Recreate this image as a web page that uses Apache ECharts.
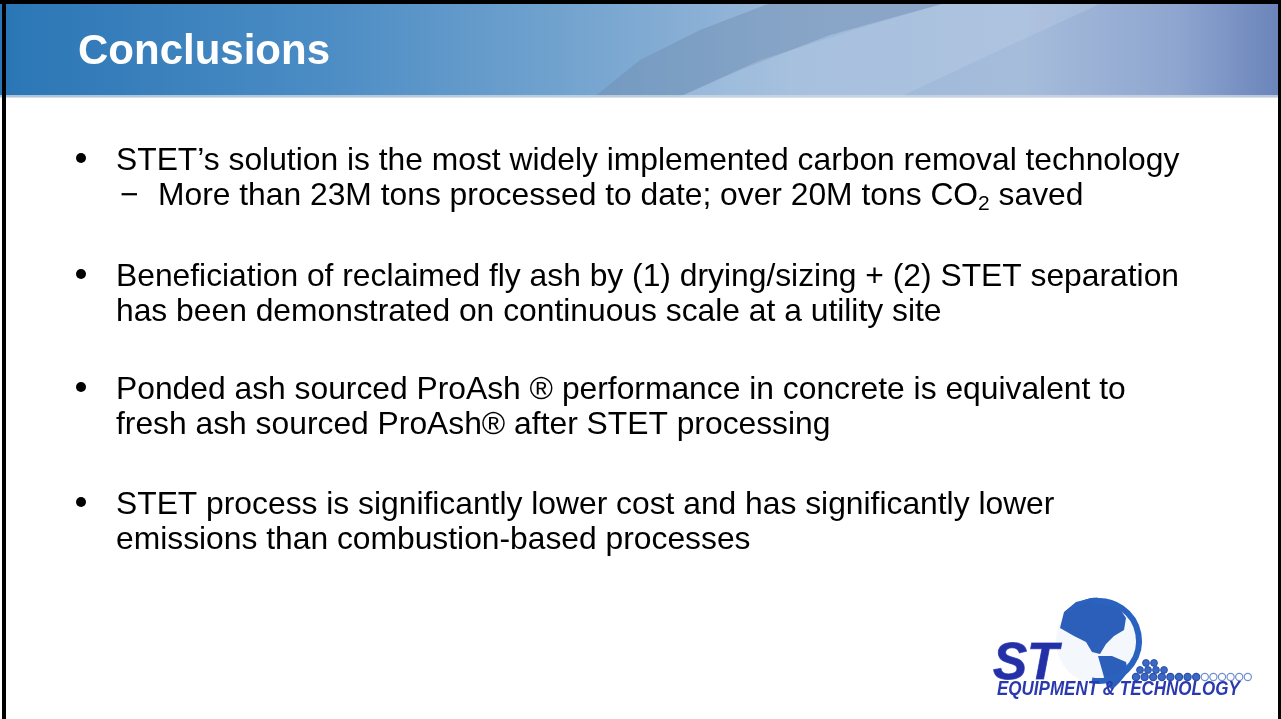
<!DOCTYPE html>
<html>
<head>
<meta charset="utf-8">
<title>Conclusions</title>
<script src="https://cdn.jsdelivr.net/npm/echarts@6/dist/echarts.min.js"></script>
<style>
  html, body { margin: 0; padding: 0; background: #fff; }
  #main { width: 1281px; height: 719px; }
</style>
</head>
<body>
<div id="main"></div>
<script>
// slide text
var titleText = 'Conclusions';
var bulletLines = [
  ['STET\u2019s solution is the most widely implemented carbon removal technology'],
  ['Beneficiation of reclaimed fly ash by (1) drying/sizing + (2) STET separation',
   'has been demonstrated on continuous scale at a utility site'],
  ['Ponded ash sourced ProAsh \u00ae performance in concrete is equivalent to',
   'fresh ash sourced ProAsh\u00ae after STET processing'],
  ['STET process is significantly lower cost and has significantly lower',
   'emissions than combustion-based processes']
];
var subBullet = ['More than 23M tons processed to date; over 20M tons CO', '2', ' saved'];
var bulletTop = [161, 277, 390, 505];
var logoWords = ['ST', 'EQUIPMENT & TECHNOLOGY'];

var FONT = '"Liberation Sans", Arial, sans-serif';
var LINE = 35.5;

var chart = echarts.init(document.getElementById('main'), null, { renderer: 'canvas' });

var els = [];

// header band
els.push({
  type: 'rect', shape: { x: 0, y: 0, width: 1281, height: 97 },
  style: { fill: new echarts.graphic.LinearGradient(0, 0, 1, 0, [
    { offset: 0, color: '#2a76b5' },
    { offset: 0.25, color: '#4b8cc4' },
    { offset: 0.45, color: '#74a4cf' },
    { offset: 0.62, color: '#9cb9da' },
    { offset: 0.8, color: '#a6bcdb' },
    { offset: 0.92, color: '#8ea5cf' },
    { offset: 1, color: '#6a84ba' }
  ]) }
});
// darker swoosh band
els.push({
  type: 'polygon', smooth: 0.35,
  shape: { points: [[594, 97], [640, 60], [700, 30], [768, 4], [942, 4], [830, 35], [740, 70], [679, 97]] },
  style: { fill: 'rgba(110,140,175,0.45)' }
});
// light swoosh region
els.push({
  type: 'polygon', smooth: 0.35,
  shape: { points: [[679, 97], [760, 60], [870, 25], [942, 4], [1100, 4], [1000, 50], [900, 97]] },
  style: { fill: 'rgba(200,215,235,0.25)' }
});
els.push({
  type: 'rect', shape: { x: 0, y: 95, width: 1281, height: 3 },
  style: { fill: 'rgba(205,215,228,0.8)' }
});

// frame
els.push({ type: 'rect', shape: { x: 0, y: 0, width: 1281, height: 4 }, style: { fill: '#000' } });
els.push({ type: 'rect', shape: { x: 2, y: 0, width: 4, height: 719 }, style: { fill: '#000' } });
els.push({ type: 'rect', shape: { x: 1278, y: 0, width: 3, height: 719 }, style: { fill: '#000' } });

// title
els.push({
  type: 'text', x: 78, y: 52,
  style: { text: titleText, fill: '#fff', font: 'bold 42px ' + FONT, verticalAlign: 'middle' }
});

// bullets
bulletLines.forEach(function (lines, i) {
  var y0 = bulletTop[i];
  els.push({
    type: 'circle', shape: { cx: 81, cy: y0 - 3, r: 5 },
    style: { fill: '#000' }
  });
  lines.forEach(function (t, j) {
    els.push({
      type: 'text', x: 116, y: y0 + j * LINE,
      style: { text: t, fill: '#000', font: '31.8px ' + FONT, verticalAlign: 'middle' }
    });
  });
});

// sub bullet under first point
els.push({
  type: 'text', x: 120, y: bulletTop[0] + LINE,
  style: { text: '\u2212', fill: '#000', font: '31.8px ' + FONT, verticalAlign: 'middle' }
});
els.push({
  type: 'text', x: 158, y: bulletTop[0] + LINE,
  style: {
    text: '{a|' + subBullet[0] + '}{s|' + subBullet[1] + '}{a|' + subBullet[2] + '}',
    verticalAlign: 'middle',
    rich: {
      a: { fontSize: 31.8, fontFamily: FONT, color: '#000', lineHeight: 36 },
      s: { fontSize: 21, fontFamily: FONT, color: '#000', lineHeight: 18, verticalAlign: 'bottom' }
    }
  }
});

// logo: globe
var gx = 1099, gy = 641, gr = 43;
els.push({ type: 'circle', shape: { cx: gx, cy: gy, r: gr }, style: { fill: '#f4f7fc' } });
// north america
els.push({
  type: 'polygon', smooth: 0.25,
  shape: { points: [[1060, 628], [1064, 612], [1076, 602], [1092, 598], [1106, 600], [1118, 606], [1126, 618], [1124, 630], [1114, 636], [1106, 644], [1100, 654], [1092, 652], [1086, 642], [1074, 636]] },
  style: { fill: '#2c5fba' }
});
// central / south america
els.push({
  type: 'polygon', smooth: 0.25,
  shape: { points: [[1098, 656], [1112, 656], [1126, 662], [1128, 672], [1120, 682], [1112, 690], [1106, 684], [1102, 670]] },
  style: { fill: '#2c5fba' }
});
// rim on the right side
els.push({
  type: 'arc', shape: { cx: gx, cy: gy, r: gr - 3, startAngle: -1.75, endAngle: 1.75 },
  style: { stroke: '#2a62c0', lineWidth: 6, fill: null }
});
els.push({
  type: 'arc', shape: { cx: gx, cy: gy, r: gr - 1, startAngle: -2.4, endAngle: -1.6 },
  style: { stroke: '#2a62c0', lineWidth: 3, fill: null }
});
// dots row
for (var k = 0; k < 14; k++) {
  var dx = 1136 + k * 8.6;
  var filled = k < 8;
  els.push({
    type: 'circle', shape: { cx: dx, cy: 677, r: 3.6 },
    style: { fill: filled ? '#3a68c4' : '#fff', stroke: filled ? '#2a4fa8' : '#6f8fcf', lineWidth: 1.2 }
  });
}
[[1140, 670], [1148, 670], [1156, 670], [1164, 670], [1146, 663], [1154, 663]].forEach(function (p) {
  els.push({ type: 'circle', shape: { cx: p[0], cy: p[1], r: 3.4 }, style: { fill: '#3a68c4', stroke: '#2a4fa8', lineWidth: 1 } });
});
// ST letters
els.push({
  type: 'text', x: 993, y: 665,
  style: { text: logoWords[0], fill: '#2430a6', font: 'italic bold 51px ' + FONT, verticalAlign: 'middle', stroke: '#5a68c8', lineWidth: 1 }
});
els.push({
  type: 'text', x: 997, y: 690, scaleY: 1.15,
  style: { text: logoWords[1], fill: '#2a3aae', font: 'italic bold 17px ' + FONT, verticalAlign: 'middle' }
});

chart.setOption({
  backgroundColor: '#ffffff',
  animation: false,
  graphic: { elements: els }
});
window.onresize = chart.resize;
</script>
</body>
</html>
